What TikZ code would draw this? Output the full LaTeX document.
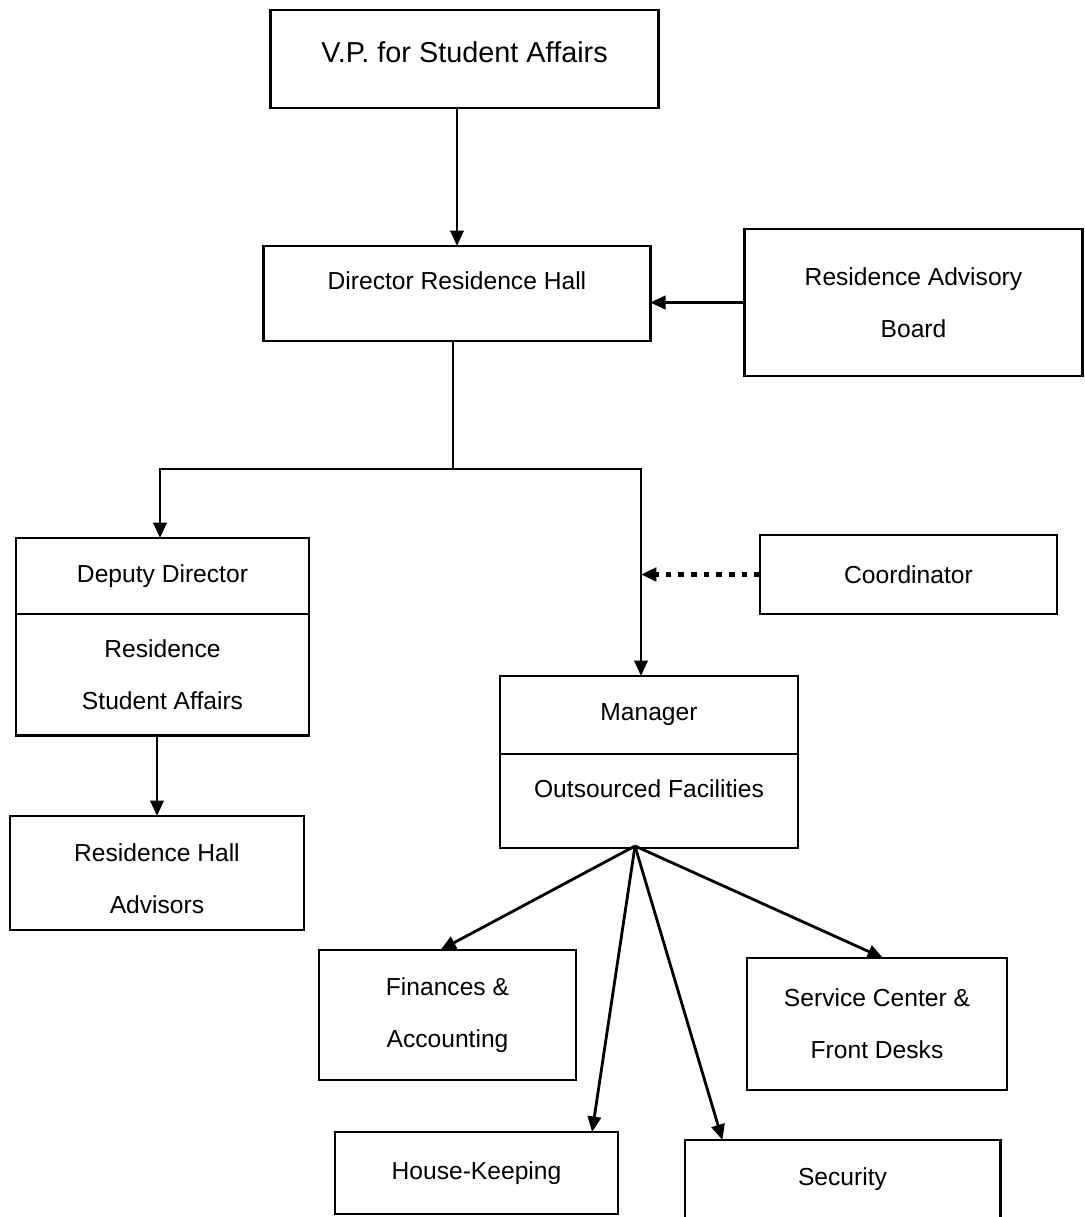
\documentclass[tikz,border=0pt]{standalone}
\usepackage{fontspec}
\setmainfont{Liberation Sans}
\usetikzlibrary{arrows.meta,positioning}
\newcommand{\lift}[2]{\raisebox{#1}[\height][\depth]{#2}}
\tikzset{
  box/.style={draw, line width=0.8pt, inner sep=0pt, outer sep=0pt, align=center,
    font=\fontsize{7}{14.8}\selectfont},
  link/.style={line width=0.8pt, -{Triangle[length=4.4pt,width=3.8pt]}},
  hint/.style={link, line width=1.6pt, dotted},
}
\begin{document}
\begin{tikzpicture}[x=0.01cm,y=-0.01cm]
\useasboundingbox (0,0) rectangle (1085,1217);
% top of the chart
\node[box, minimum width=3.87cm, minimum height=0.98cm, font=\fontsize{8.2}{10}\selectfont] (vp) at (464.5,59) {\lift{0.07cm}{V.P. for Student Affairs}};
\node[box, minimum width=3.86cm, minimum height=0.95cm] (dir) at (457,293.5) {\lift{0.13cm}{Director Residence Hall}};
\node[box, minimum width=3.37cm, minimum height=1.47cm] (rab) at (913.5,302.5) {Residence Advisory\\Board};
% deputy side
\node[box, minimum width=2.93cm, minimum height=0.76cm] (dep) at (162.5,576) {Deputy Director};
\node[box, minimum width=2.93cm, minimum height=1.21cm, below=0pt of dep] (depb) {Residence\\Student Affairs};
\node[box, minimum width=2.94cm, minimum height=1.14cm] (rha) at (157,873) {\lift{-0.06cm}{Residence Hall}\\\lift{-0.06cm}{Advisors}};
% manager side
\node[box, minimum width=2.97cm, minimum height=0.79cm] (coord) at (908.5,574.5) {Coordinator};
\node[box, minimum width=2.98cm, minimum height=0.78cm] (mgr) at (649,715) {Manager};
\node[box, minimum width=2.98cm, minimum height=0.94cm, below=0pt of mgr] (mgrb) {\lift{0.12cm}{Outsourced Facilities}};
\node[box, minimum width=2.57cm, minimum height=1.30cm] (fin) at (447.5,1015) {Finances \&\\Accounting};
\node[box, minimum width=2.60cm, minimum height=1.32cm] (svc) at (877,1024) {Service Center \&\\Front Desks};
\node[box, minimum width=2.83cm, minimum height=0.82cm] (hk) at (476.5,1173) {House-Keeping};
\node[box, minimum width=3.15cm, minimum height=0.79cm] (sec) at (842.5,1179.5) {Security};
% connectors
\coordinate (split) at (453,469);
\coordinate (fan) at (635,846);
\draw[link] (dir.north |- vp.south) -- (dir.north);
\draw[link] (rab.west) -- (rab.west -| dir.east);
\draw[line width=0.8pt] (split |- dir.south) -- (split);
\draw[link] (split) -| ([xshift=-0.025cm]dep.north);
\draw[link] (split) -| ([xshift=-0.08cm]mgr.north);
\draw[hint] (coord.west) -- ([xshift=-0.08cm]mgr.north |- coord.west);
\draw[link] (rha.north |- depb.south) -- (rha.north);
\draw[link] (fan) -- ([xshift=-0.07cm]fin.north);
\draw[link] (fan) -- ([xshift=1.155cm]hk.north);
\draw[link] (fan) -- ([xshift=-1.2cm]sec.north);
\draw[link] (fan) -- ([xshift=0.06cm]svc.north);
\end{tikzpicture}
\end{document}
